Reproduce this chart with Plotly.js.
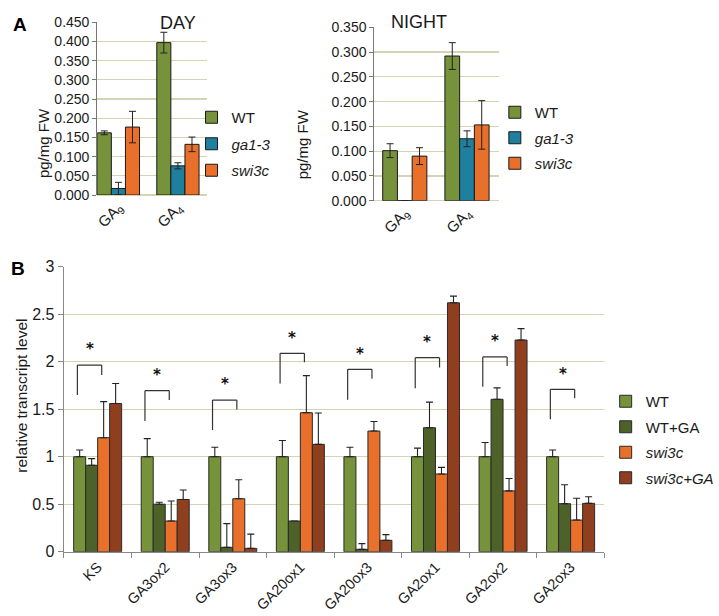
<!DOCTYPE html>
<html>
<head>
<meta charset="utf-8">
<script src="https://cdn.plot.ly/plotly-3.0.1.min.js"></script>
<style>
html,body{margin:0;padding:0;background:#fff;}
#chart{width:719px;height:616px;}
</style>
</head>
<body>
<div id="chart"></div>
<script>
// ---------- Panel A data ----------
const gaCats = ['GA<sub>9</sub>', 'GA<sub>4</sub>'];
const dayWT = [0.162, 0.397];
const dayWTErr = [0.005, 0.027];
const dayGa13 = [0.017, 0.076];
const dayGa13Err = [0.016, 0.008];
const daySwi = [0.177, 0.132];
const daySwiErr = [0.041, 0.019];

const nightWT = [0.101, 0.292];
const nightWTErr = [0.014, 0.027];
const nightGa13 = [0.0, 0.125];
const nightGa13Err = [0.0, 0.016];
const nightSwi = [0.090, 0.153];
const nightSwiErr = [0.017, 0.049];

// ---------- Panel B data ----------
const genes = ['KS', 'GA3ox2', 'GA3ox3', 'GA20ox1', 'GA20ox3', 'GA2ox1', 'GA2ox2', 'GA2ox3'];
const bWT = [1, 1, 1, 1, 1, 1, 1, 1];
const bWTErr = [0.07, 0.19, 0.10, 0.17, 0.10, 0.09, 0.15, 0.07];
const bWTGA = [0.91, 0.50, 0.046, 0.323, 0.025, 1.305, 1.604, 0.505];
const bWTGAErr = [0.07, 0.02, 0.25, 0, 0.06, 0.27, 0.12, 0.20];
const bSwi = [1.20, 0.323, 0.558, 1.463, 1.27, 0.818, 0.64, 0.333];
const bSwiErr = [0.38, 0.21, 0.20, 0.39, 0.10, 0.07, 0.13, 0.23];
const bSwiGA = [1.56, 0.55, 0.035, 1.13, 0.12, 2.62, 2.228, 0.509];
const bSwiGAErr = [0.21, 0.10, 0.15, 0.33, 0.06, 0.07, 0.12, 0.07];

// significance brackets (value units)
const sigLeftLow = [1.65, 1.375, 1.28, 1.77, 1.60, 1.72, 1.737, 1.393];
const sigTop = [1.965, 1.695, 1.596, 2.088, 1.92, 2.042, 2.05, 1.709];
const sigRightLow = [1.86, 1.596, 1.498, 1.993, 1.82, 1.94, 1.954, 1.614];

// ---------- styling ----------
const W = 719, H = 616;
const px = v => v / W;
const py = v => 1 - v / H;
const FONT = '"Liberation Sans", Arial, sans-serif';
const C_WT = '#76933C', C_GA13 = '#1E7F9E', C_SWI = '#E8702A', C_WTGA = '#4C6229', C_SWIGA = '#8F3F1E';
const GRID = '#D6D2B4';
const TXT = '#1a1a1a';

function symErr(arr) {
  return {type: 'data', array: arr, visible: true, color: '#222', thickness: 1, width: 3.5};
}
function upErr(arr) {
  return {type: 'data', symmetric: false, array: arr, arrayminus: arr.map(() => 0), visible: true, color: '#222', thickness: 1.1, width: 3.5};
}
function barA(name, y, err, color, xa, ya, leg, grp) {
  return {type: 'bar', name: name, x: gaCats, y: y, error_y: symErr(err), xaxis: xa, yaxis: ya,
    legend: leg, legendgroup: grp, marker: {color: color, line: {color: '#1a1a1a', width: 1}}, hoverinfo: 'y'};
}
function barB(name, y, err, color, grp) {
  return {type: 'bar', name: name, x: genes, y: y, error_y: upErr(err), xaxis: 'x3', yaxis: 'y3',
    legend: 'legend3', legendgroup: grp, marker: {color: color, line: {color: '#2a2a2a', width: 1}}, hoverinfo: 'y'};
}

const traces = [
  barA('WT', dayWT, dayWTErr, C_WT, 'x', 'y', 'legend', 'a1'),
  barA('<i>ga1-3</i>', dayGa13, dayGa13Err, C_GA13, 'x', 'y', 'legend', 'a2'),
  barA('<i>swi3c</i>', daySwi, daySwiErr, C_SWI, 'x', 'y', 'legend', 'a3'),
  barA('WT', nightWT, nightWTErr, C_WT, 'x2', 'y2', 'legend2', 'b1'),
  barA('<i>ga1-3</i>', nightGa13, nightGa13Err, C_GA13, 'x2', 'y2', 'legend2', 'b2'),
  barA('<i>swi3c</i>', nightSwi, nightSwiErr, C_SWI, 'x2', 'y2', 'legend2', 'b3'),
  barB('WT', bWT, bWTErr, C_WT, 'c1'),
  barB('WT+GA', bWTGA, bWTGAErr, C_WTGA, 'c2'),
  barB('<i>swi3c</i>', bSwi, bSwiErr, C_SWI, 'c3'),
  barB('<i>swi3c+GA</i>', bSwiGA, bSwiGAErr, C_SWIGA, 'c4')
];

const tickFontA = {family: FONT, size: 14, color: TXT};

function yA(dom, rng) {
  return {domain: dom, range: rng, dtick: 0.05, tickformat: '.3f', showgrid: true, gridcolor: GRID, gridwidth: 1.2,
    zeroline: true, zerolinecolor: GRID, zerolinewidth: 1.5, showline: true, linecolor: '#777', linewidth: 1,
    ticks: 'outside', ticklen: 4, tickcolor: '#777', tickfont: tickFontA, fixedrange: true};
}
function xA(dom, rng, anchor) {
  return {domain: dom, range: rng, anchor: anchor, type: 'category', showline: false, showgrid: false, zeroline: false,
    ticks: '', tickangle: -45,
    tickfont: {family: FONT, size: 15, color: TXT}, fixedrange: true};
}

// brackets & stars
const shapes = [];
const annotations = [];
const LOFF = -0.30, ROFF = 0.06;
genes.forEach((g, i) => {
  const l = i + LOFF, r = i + ROFF;
  const ln = {color: '#333', width: 1.2};
  shapes.push({type: 'line', xref: 'x3', yref: 'y3', x0: l, x1: l, y0: sigLeftLow[i], y1: sigTop[i], line: ln});
  shapes.push({type: 'line', xref: 'x3', yref: 'y3', x0: l, x1: r, y0: sigTop[i], y1: sigTop[i], line: ln});
  shapes.push({type: 'line', xref: 'x3', yref: 'y3', x0: r, x1: r, y0: sigRightLow[i], y1: sigTop[i], line: ln});
  annotations.push({xref: 'x3', yref: 'y3', x: (l + r) / 2, y: sigTop[i] + 0.05, yanchor: 'bottom', xanchor: 'center',
    text: '<b>*</b>', showarrow: false, font: {family: '"DejaVu Sans", sans-serif', size: 15, color: '#111'}});
});

// titles / panel letters / axis titles
annotations.push(
  {xref: 'paper', yref: 'paper', x: px(162.5), y: py(10.5), text: 'DAY', showarrow: false, font: {family: FONT, size: 18, color: TXT}},
  {xref: 'paper', yref: 'paper', x: px(431.5), y: py(10), text: 'NIGHT', showarrow: false, font: {family: FONT, size: 18, color: TXT}},
  {xref: 'paper', yref: 'paper', x: px(11), y: py(12), text: '<b>A</b>', showarrow: false, font: {family: FONT, size: 19, color: '#000'}},
  {xref: 'paper', yref: 'paper', x: px(9), y: py(268), text: '<b>B</b>', showarrow: false, font: {family: FONT, size: 19, color: '#000'}},
  {xref: 'paper', yref: 'paper', x: px(33.5), y: py(106), text: 'pg/mg FW', textangle: -90, showarrow: false, font: {family: FONT, size: 15, color: TXT}},
  {xref: 'paper', yref: 'paper', x: px(311), y: py(107), text: 'pg/mg FW', textangle: -90, showarrow: false, font: {family: FONT, size: 15, color: TXT}},
  {xref: 'paper', yref: 'paper', x: px(10.5), y: py(396), text: 'relative transcript level', textangle: -90, showarrow: false, font: {family: FONT, size: 15.5, color: TXT}}
);

const legFont = {family: FONT, size: 15, color: TXT};
const layout = {
  width: W, height: H,
  margin: {l: 0, r: 0, t: 0, b: 0},
  paper_bgcolor: '#fff', plot_bgcolor: '#fff',
  font: {family: FONT, color: TXT},
  barmode: 'group', bargap: 0.29, bargroupgap: 0,
  showlegend: true,
  xaxis: xA([px(100), px(213)], [-0.356, 1.49], 'y'),
  yaxis: yA([py(195), py(22.3)], [0, 0.45]),
  xaxis2: xA([px(385), px(513)], [-0.49, 1.51], 'y2'),
  yaxis2: Object.assign(yA([py(200.7), py(27.3)], [0, 0.35]), {anchor: 'x2'}),
  xaxis3: {domain: [px(65.7), px(621.7)], anchor: 'y3', type: 'category', range: [-0.5, 7.5], showline: true, linecolor: '#888', linewidth: 1.2,
    ticks: 'outside', tickson: 'boundaries', ticklen: 5, tickcolor: '#888', tickangle: -45,
    tickfont: {family: FONT, size: 14.5, color: TXT},
    showgrid: false, zeroline: false, fixedrange: true},
  yaxis3: {domain: [py(551.7), py(266.7)], anchor: 'x3', range: [0, 3], dtick: 0.5, showgrid: true, gridcolor: GRID, gridwidth: 1.2,
    zeroline: false, showline: true, linecolor: '#888', linewidth: 1.2, ticks: 'outside', ticklen: 5, tickcolor: '#888',
    tickfont: {family: FONT, size: 16, color: TXT}, fixedrange: true},
  legend: {x: px(197), y: py(101), xanchor: 'left', yanchor: 'top', font: legFont, tracegroupgap: 4, bgcolor: 'rgba(0,0,0,0)', itemwidth: 30},
  legend2: {x: px(509), y: py(96), xanchor: 'left', yanchor: 'top', font: legFont, tracegroupgap: 3, bgcolor: 'rgba(0,0,0,0)', itemwidth: 30},
  legend3: {x: px(623), y: py(385), xanchor: 'left', yanchor: 'top', font: legFont, tracegroupgap: 3, bgcolor: 'rgba(0,0,0,0)', itemwidth: 30},
  shapes: shapes,
  annotations: annotations
};

Plotly.newPlot('chart', traces, layout, {displayModeBar: false, staticPlot: true});
</script>
</body>
</html>
